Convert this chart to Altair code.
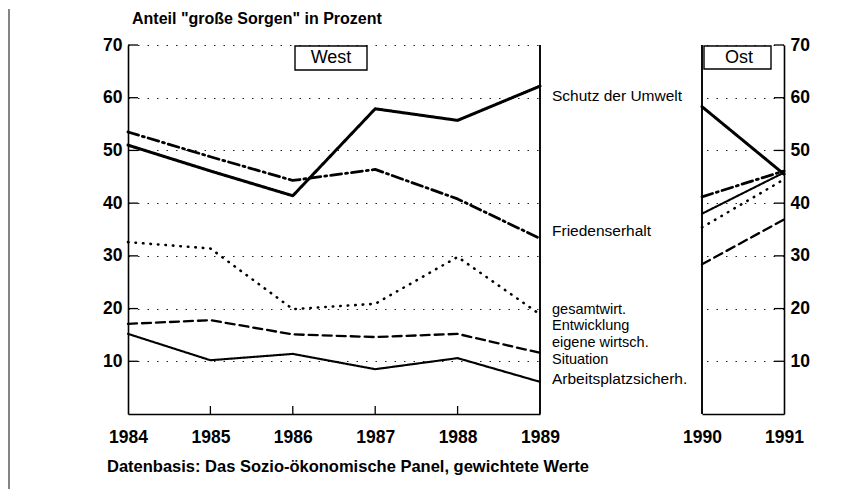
import altair as alt
import pandas as pd

# ---------------- data ----------------
years_west = [1984, 1985, 1986, 1987, 1988, 1989]
years_east = [1990, 1991]
series = ["Schutz der Umwelt", "Friedenserhalt", "gesamtwirt. Entwicklung",
          "eigene wirtsch. Situation", "Arbeitsplatzsicherh."]

umwelt_w = [51.0, 46.1, 41.4, 57.9, 55.7, 62.2]
frieden_w = [53.5, 48.8, 44.3, 46.4, 40.8, 33.3]
gesamt_w = [32.6, 31.4, 19.9, 20.9, 29.8, 18.9]
eigene_w = [17.1, 17.8, 15.1, 14.6, 15.2, 11.6]
arbeit_w = [15.2, 10.2, 11.4, 8.5, 10.6, 6.1]

umwelt_o = [58.3, 45.5]
frieden_o = [41.2, 46.1]
gesamt_o = [35.4, 44.5]
eigene_o = [28.4, 36.9]
arbeit_o = [38.0, 45.8]

y_ticks = [10, 20, 30, 40, 50, 60, 70]

label_lines = ["Schutz der Umwelt", "Friedenserhalt", "gesamtwirt.", "Entwicklung",
               "eigene wirtsch.", "Situation", "Arbeitsplatzsicherh."]

title_text = 'Anteil "große Sorgen" in Prozent'
footer_text = "Datenbasis: Das Sozio-ökonomische Panel, gewichtete Werte"

# ---------------- layout / style ----------------
W_W, W_O, H = 412, 82, 369
F = "Liberation Sans, Arial, Helvetica, sans-serif"
label_py = [51, 186, 265, 281, 298, 315, 334]
label_size = [15.5, 15.5, 14.5, 14.5, 14.5, 14.5, 15.5]


def long(years, cols):
    rows = []
    for s, vals in zip(series, cols):
        for yr, v in zip(years, vals):
            rows.append({"year": yr, "value": v, "series": s})
    return pd.DataFrame(rows)


df_w = long(years_west, [umwelt_w, frieden_w, gesamt_w, eigene_w, arbeit_w])
df_o = long(years_east, [umwelt_o, frieden_o, gesamt_o, eigene_o, arbeit_o])
one = pd.DataFrame({"a": [0]})

dash_scale = alt.Scale(domain=series, range=[[1, 0], [11, 4, 2, 4], [0.5, 7], [9, 5], [1, 0]])
width_scale = alt.Scale(domain=series, range=[3, 2.1, 2.4, 2.1, 2.4])

yscale = alt.Scale(domain=[0, 70], nice=False, zero=True)


def xscale(dom):
    return alt.Scale(domain=dom, nice=False, zero=False)


def lines(df, xdom, years, orient):
    x_axis = alt.Axis(values=years, format="d", title=None, grid=False, ticks=False,
                      domainColor="black", domainWidth=1.6, labelFont=F, labelFontSize=17.5,
                      labelFontWeight="bold", labelColor="black", labelPadding=14,
                      labelFlush=False, labelOverlap=False)
    y_axis = alt.Axis(values=y_ticks, title=None, orient=orient, grid=True,
                      gridDash=[1.5, 8], gridColor="#222", gridWidth=1.1, ticks=False,
                      domainColor="black", domainWidth=1.6, labelFont=F, labelFontSize=17.5,
                      labelFontWeight="bold", labelColor="black", labelPadding=6,
                      labelFlush=False)
    return alt.Chart(df).mark_line(color="black", strokeCap="round", strokeJoin="round").encode(
        x=alt.X("year:Q", scale=xscale(xdom), axis=x_axis),
        y=alt.Y("value:Q", scale=yscale, axis=y_axis),
        strokeDash=alt.StrokeDash("series:N", scale=dash_scale, legend=None),
        strokeWidth=alt.StrokeWidth("series:N", scale=width_scale, legend=None),
        detail="series:N",
    )


def ytick_rules(x0, x1):
    return alt.Chart(pd.DataFrame({"value": y_ticks})).mark_rule(color="black", strokeWidth=1.3).encode(
        y=alt.Y("value:Q", scale=yscale), x=alt.value(x0), x2=alt.value(x1))


def vrule(x, y0, y1, w=1.6, c="black"):
    return alt.Chart(one).mark_rule(color=c, strokeWidth=w).encode(
        x=alt.value(x), y=alt.value(y0), y2=alt.value(y1))


def box(x0, x1, y0, y1, txt, cx, cy):
    r = alt.Chart(one).mark_rect(fill="white", stroke="black", strokeWidth=1.4).encode(
        x=alt.value(x0), x2=alt.value(x1), y=alt.value(y0), y2=alt.value(y1))
    t = alt.Chart(one).mark_text(text=txt, font=F, fontSize=18, align="center",
                                 baseline="middle", color="black").encode(
        x=alt.value(cx), y=alt.value(cy))
    return r + t


# ---------------- West ----------------
west_layers = [
    lines(df_w, [1984, 1989], years_west, "left"),
    ytick_rules(0, 10),
    alt.Chart(pd.DataFrame({"year": years_west[1:-1]})).mark_rule(color="black", strokeWidth=1.3).encode(
        x=alt.X("year:Q", scale=xscale([1984, 1989])),
        y=alt.value(H), y2=alt.value(H - 8)),
    vrule(W_W, 0, H, w=1.9),
    vrule(-119, -36, 444, w=1.2, c="#333"),
    box(167, 239, 1, 25, "West", 203, 13),
    alt.Chart(one).mark_text(text=title_text, font=F, fontSize=16, fontWeight="bold",
                             align="left", baseline="middle", color="black").encode(
        x=alt.value(4), y=alt.value(-26)),
    alt.Chart(one).mark_text(text=footer_text, font=F, fontSize=16.5, fontWeight="bold",
                             align="left", baseline="middle", color="black").encode(
        x=alt.value(-21), y=alt.value(422)),
]
for txt, py, fs in zip(label_lines, label_py, label_size):
    west_layers.append(
        alt.Chart(one).mark_text(text=txt, font=F, fontSize=fs, align="left",
                                 baseline="middle", color="black").encode(
            x=alt.value(W_W + 12), y=alt.value(py)))

west = alt.layer(*west_layers).properties(width=W_W, height=H)

# ---------------- Ost ----------------
east = alt.layer(
    lines(df_o, [1990, 1991], years_east, "right"),
    ytick_rules(W_O - 10, W_O),
    vrule(0, 0, H, w=1.9),
    box(2, 69, 1, 24, "Ost", 37, 13),
).properties(width=W_O, height=H)

chart = alt.hconcat(west, east, spacing=162, bounds="flush").properties(
    padding=0
).configure_view(stroke=None)

chart.save("out.html", embed_options={"renderer": "svg", "actions": False})
